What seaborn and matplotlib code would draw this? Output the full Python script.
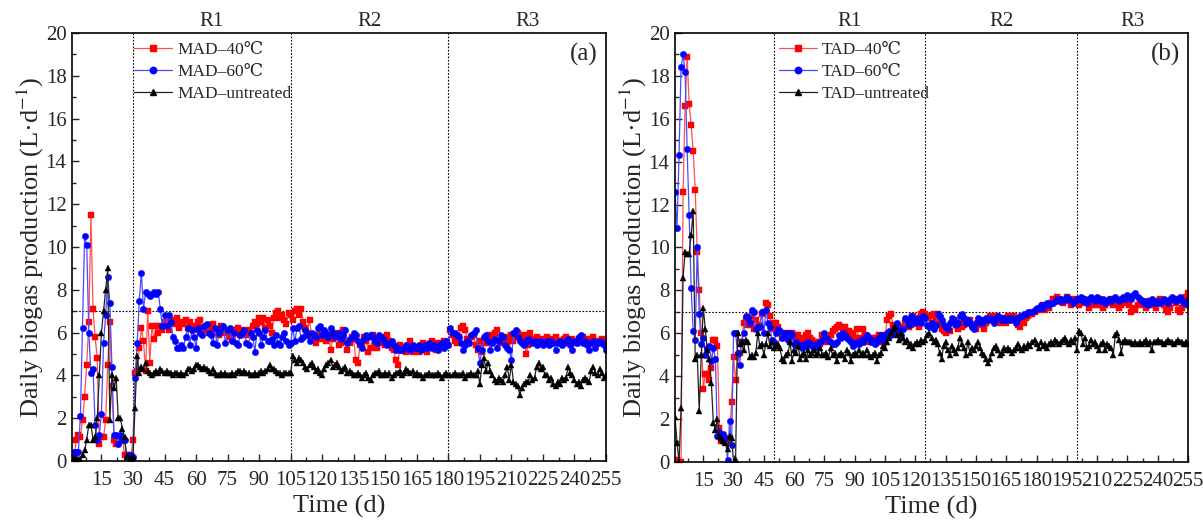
import numpy as np
import pandas as pd
import matplotlib
matplotlib.use("Agg")
import matplotlib.pyplot as plt
import seaborn as sns
from matplotlib.ticker import MultipleLocator, FixedLocator
from matplotlib.lines import Line2D

# ---------------- data ----------------
days = list(range(1, 256))

mad_40 = [
    0.2, 0.2, 1.0, 1.2, 1.1, 1.9, 3.0, 4.5, 6.5, 11.5, 7.1, 5.8, 4.8, 0.8, 1.1,
    1.1, 1.9, 4.5, 6.5, 3.5, 1.0, 0.8, 1.1, 1.1, 1.0, 0.3, 0.3, 0.3, 0.2, 1.0,
    4.1, 4.2, 5.3, 6.2, 5.6, 4.2, 7.0, 4.6, 6.3, 5.7, 6.3, 6.0, 6.3, 6.1, 6.5,
    6.4, 6.1, 6.5, 6.6, 6.4, 6.7, 6.2, 6.5, 6.4, 6.6, 6.2, 6.5, 6.3, 6.1, 6.2,
    6.5, 6.6, 6.2, 6.1, 6.3, 6.0, 6.2, 6.4, 6.1, 6.0, 5.9, 6.3, 6.2, 6.0, 6.1,
    5.8, 5.7, 6.1, 6.0, 6.2, 5.9, 6.1, 6.0, 5.9, 6.1, 6.0, 6.3, 6.5, 6.4, 6.7,
    6.5, 6.7, 6.2, 6.6, 6.3, 6.0, 6.7, 6.9, 7.0, 6.7, 6.8, 6.6, 6.4, 6.9, 6.8,
    6.6, 7.0, 7.1, 6.8, 7.1, 6.5, 6.2, 6.0, 6.6, 5.8, 5.9, 5.5, 5.9, 6.1, 5.7,
    5.8, 5.6, 5.9, 5.2, 5.7, 5.9, 6.0, 5.4, 5.5, 6.1, 5.6, 5.2, 5.5, 5.8, 5.7,
    4.7, 4.6, 5.4, 5.5, 5.8, 5.6, 5.1, 5.3, 5.9, 5.4, 5.3, 5.6, 5.8, 5.5, 5.4,
    5.9, 5.6, 5.3, 5.2, 4.7, 4.5, 5.4, 5.3, 5.2, 5.1, 5.2, 5.6, 5.1, 5.2, 5.3,
    5.1, 5.2, 5.5, 5.3, 5.1, 5.4, 5.6, 5.3, 5.2, 5.5, 5.4, 5.3, 5.6, 5.5, 5.4,
    6.1, 5.9, 5.6, 5.5, 5.8, 6.2, 6.3, 6.1, 5.7, 5.5, 5.8, 5.9, 5.4, 5.2, 5.6,
    5.1, 5.5, 5.8, 5.5, 5.9, 5.7, 6.0, 6.1, 5.6, 5.5, 5.7, 5.8, 5.4, 5.6, 5.9,
    5.6, 5.8, 6.0, 5.7, 5.6, 5.9, 5.0, 5.4, 6.0, 5.7, 5.6, 5.8, 5.7, 5.5, 5.6,
    5.7, 5.8, 5.6, 5.5, 5.7, 5.8, 5.6, 5.6, 5.5, 5.7, 5.8, 5.5, 5.6, 5.7, 5.6,
    5.5, 5.7, 5.6, 5.8, 5.6, 5.5, 5.7, 5.6, 5.8, 5.6, 5.5, 5.6, 5.7, 5.5, 5.6,
]

mad_60 = [
    0.3, 0.4, 0.4, 0.4, 2.1, 6.2, 10.5, 10.1, 6.0, 4.1, 4.3, 1.7, 1.0, 1.2, 2.2,
    5.5, 6.8, 8.6, 7.4, 4.4, 1.2, 1.2, 0.8, 1.2, 1.0, 1.0, 0.2, 0.3, 0.3, 0.2,
    3.9, 5.5, 7.5, 8.8, 7.1, 7.9, 7.8, 7.7, 7.8, 7.9, 7.8, 7.9, 7.1, 6.3, 6.8,
    6.3, 6.8, 6.5, 5.8, 5.6, 5.3, 5.3, 5.4, 5.3, 5.8, 6.2, 5.4, 6.1, 5.8, 5.3,
    6.2, 6.0, 5.9, 6.3, 6.4, 6.0, 5.9, 5.5, 6.2, 5.4, 6.0, 6.2, 6.3, 5.5, 6.1,
    6.2, 5.6, 6.0, 5.5, 5.4, 5.9, 6.0, 6.1, 5.5, 5.4, 6.0, 5.8, 5.1, 6.1, 6.0,
    5.4, 5.8, 6.1, 5.6, 5.6, 5.7, 5.4, 5.9, 5.5, 5.4, 5.8, 6.0, 5.6, 5.4, 5.5,
    6.2, 5.6, 6.2, 6.3, 5.7, 5.8, 6.1, 5.9, 5.6, 6.0, 5.9, 5.8, 6.2, 6.3, 5.9,
    6.1, 6.0, 5.8, 6.2, 6.0, 5.8, 5.9, 6.0, 5.7, 5.9, 6.1, 5.5, 5.7, 5.8, 6.0,
    5.9, 5.6, 5.5, 5.3, 5.7, 5.9, 5.8, 5.9, 5.8, 5.6, 5.5, 5.9, 5.8, 5.7, 5.5,
    5.4, 5.5, 5.6, 5.4, 5.2, 5.3, 5.2, 5.2, 5.3, 5.4, 5.3, 5.2, 5.4, 5.3, 5.3,
    5.4, 5.2, 5.3, 5.4, 5.3, 5.5, 5.3, 5.4, 5.3, 5.2, 5.4, 5.5, 5.3, 5.6, 5.4,
    6.2, 6.0, 6.0, 5.9, 5.8, 5.5, 5.2, 5.4, 5.6, 5.5, 5.9, 6.0, 6.1, 5.3, 4.6,
    5.2, 5.8, 5.9, 5.6, 5.2, 5.5, 5.7, 5.3, 5.6, 5.9, 5.8, 5.4, 5.3, 5.2, 4.7,
    6.0, 6.1, 5.8, 5.6, 5.5, 5.4, 5.6, 5.7, 5.6, 5.5, 5.6, 5.4, 5.5, 5.6, 5.4,
    5.5, 5.6, 5.4, 5.6, 5.5, 5.2, 5.5, 5.6, 5.4, 5.5, 5.6, 5.7, 5.4, 5.2, 5.6,
    5.5, 5.8, 5.9, 5.5, 5.6, 5.4, 5.2, 5.5, 5.6, 5.3, 5.5, 5.6, 5.5, 5.4, 5.2,
]

mad_untreated = [
    0.1, 0.1, 0.1, 0.1, 0.1, 0.3, 0.5, 1.0, 1.7, 1.7, 1.0, 1.1, 2.0, 4.0, 6.0,
    7.0, 8.0, 9.0, 1.9, 4.0, 3.4, 3.9, 2.0, 2.0, 1.5, 1.1, 0.2, 0.2, 0.1, 0.2,
    2.5, 4.9, 4.1, 4.4, 4.3, 4.6, 4.2, 4.1, 4.0, 4.1, 4.2, 4.1, 4.3, 4.2, 4.1,
    4.2, 4.1, 4.1, 4.0, 4.1, 4.1, 4.0, 4.1, 4.0, 4.1, 4.3, 4.3, 4.2, 4.3, 4.5,
    4.5, 4.4, 4.3, 4.4, 4.3, 4.2, 4.1, 4.3, 4.1, 4.0, 4.0, 4.1, 4.0, 4.1, 4.0,
    4.0, 4.1, 4.0, 4.1, 4.2, 4.2, 4.1, 4.2, 4.1, 4.1, 4.0, 4.0, 4.1, 4.0, 4.1,
    4.2, 4.1, 4.2, 4.3, 4.5, 4.3, 4.3, 4.2, 4.1, 4.1, 4.0, 4.1, 4.1, 4.1, 4.1,
    4.9, 4.7, 4.6, 4.8, 4.7, 4.6, 4.4, 4.3, 4.5, 4.6, 4.4, 4.2, 4.3, 4.1, 4.0,
    4.3, 4.5, 4.6, 4.7, 4.4, 4.5, 4.6, 4.4, 4.2, 4.3, 4.4, 4.1, 4.2, 4.1, 4.0,
    4.0, 4.1, 4.0, 3.9, 4.0, 4.1, 3.9, 3.8, 4.0, 4.1, 4.1, 4.2, 4.0, 4.0, 4.1,
    4.0, 4.1, 3.9, 4.0, 4.1, 4.1, 4.2, 4.0, 4.1, 4.3, 4.2, 4.1, 4.2, 4.0, 4.1,
    4.0, 4.0, 3.9, 4.0, 4.0, 4.1, 4.0, 4.0, 4.0, 4.1, 4.0, 3.9, 4.0, 4.1, 4.0,
    4.0, 4.0, 4.1, 4.0, 4.0, 4.0, 4.1, 3.9, 4.0, 4.0, 4.1, 4.0, 4.0, 4.2, 3.6,
    4.5, 4.8, 4.2, 4.6, 4.2, 4.0, 3.8, 3.7, 3.9, 3.8, 3.7, 4.0, 4.4, 3.8, 4.5,
    3.7, 3.6, 3.5, 3.1, 3.4, 3.6, 3.7, 3.7, 4.0, 3.8, 3.9, 4.4, 4.6, 4.3, 4.4,
    4.0, 4.0, 3.8, 3.9, 3.6, 3.5, 3.7, 3.6, 3.9, 3.8, 3.9, 4.4, 4.1, 4.0, 3.8,
    3.6, 3.7, 3.5, 3.8, 3.9, 3.8, 3.7, 4.2, 4.4, 4.1, 4.0, 4.3, 4.1, 3.9, 4.0,
]

tad_40 = [
    0.1, 0.1, 0.0, 0.0, 12.6, 16.6, 18.9, 16.7, 15.7, 14.5, 12.7, 9.8, 8.0, 6.0, 3.4,
    4.1, 4.1, 3.8, 4.4, 5.7, 5.7, 5.4, 1.6, 1.0, 1.1, 1.0, 0.9, 1.1, 2.8, 4.9,
    3.8, 5.0, 5.1, 5.6, 6.5, 6.6, 6.4, 6.5, 6.8, 6.2, 6.6, 6.3, 6.4, 6.9, 7.0,
    7.4, 7.3, 6.8, 6.2, 6.5, 6.5, 6.3, 6.0, 5.8, 5.9, 6.0, 5.9, 5.8, 6.0, 5.9,
    5.8, 5.9, 5.8, 5.6, 5.7, 5.9, 6.0, 5.8, 5.7, 5.5, 5.6, 5.6, 5.5, 5.9, 5.7,
    5.6, 5.8, 5.9, 6.1, 6.2, 6.3, 6.4, 6.3, 6.2, 6.3, 6.1, 6.1, 6.0, 5.9, 5.8,
    6.2, 5.8, 5.7, 6.2, 5.9, 5.6, 5.7, 5.8, 5.8, 5.6, 5.8, 5.9, 5.7, 5.6, 5.9,
    6.6, 6.8, 6.9, 6.4, 6.2, 6.0, 6.1, 5.8, 6.3, 6.5, 6.6, 6.3, 6.4, 6.8, 6.5,
    6.6, 6.3, 6.9, 7.0, 6.9, 6.7, 6.8, 6.5, 6.9, 6.6, 6.9, 6.4, 6.2, 6.1, 6.0,
    6.3, 6.1, 6.5, 6.6, 6.4, 6.2, 6.5, 6.3, 6.4, 6.6, 6.5, 6.6, 6.4, 6.3, 6.2,
    6.5, 6.6, 6.4, 6.2, 6.5, 6.6, 6.8, 6.6, 6.7, 6.8, 6.6, 6.5, 6.7, 6.6, 6.5,
    6.8, 6.6, 6.7, 6.8, 6.6, 6.4, 6.3, 6.6, 6.5, 6.7, 6.8, 6.9, 6.9, 7.0, 7.1,
    7.1, 7.2, 7.3, 7.1, 7.3, 7.2, 7.4, 7.6, 7.5, 7.7, 7.6, 7.5, 7.4, 7.5, 7.7,
    7.6, 7.3, 7.4, 7.6, 7.5, 7.3, 7.4, 7.6, 7.5, 7.4, 7.2, 7.3, 7.5, 7.4, 7.3,
    7.6, 7.4, 7.2, 7.3, 7.5, 7.4, 7.6, 7.3, 7.5, 7.4, 7.2, 7.3, 7.5, 7.4, 7.6,
    7.3, 7.0, 7.2, 7.1, 7.3, 7.4, 7.5, 7.3, 7.2, 7.4, 7.5, 7.3, 7.4, 7.2, 7.5,
    7.6, 7.4, 7.3, 7.1, 7.0, 7.2, 7.5, 7.6, 7.4, 7.1, 7.0, 7.2, 7.3, 7.7, 7.9,
]

tad_60 = [
    12.6, 10.9, 14.3, 18.4, 19.0, 18.2, 14.6, 11.5, 8.1, 6.1, 5.7, 10.0, 6.9, 5.5, 5.8,
    5.0, 5.3, 5.4, 4.7, 5.3, 4.8, 1.2, 1.4, 1.1, 1.3, 1.1, 0.1, 1.9, 0.8, 6.0,
    6.0, 5.1, 4.5, 5.6, 6.0, 6.8, 6.7, 6.5, 7.1, 7.0, 6.2, 6.3, 6.3, 7.0, 6.0,
    7.1, 6.5, 6.3, 5.7, 5.6, 6.0, 6.2, 6.1, 5.8, 5.9, 6.0, 5.7, 6.0, 5.9, 5.5,
    5.6, 5.5, 5.4, 5.3, 5.5, 5.4, 5.6, 5.5, 5.4, 5.3, 5.5, 5.4, 5.6, 5.7, 6.0,
    5.8, 5.7, 5.6, 5.5, 5.5, 5.6, 5.9, 5.8, 6.0, 5.9, 5.8, 5.7, 5.6, 5.4, 5.5,
    5.6, 5.5, 5.7, 5.6, 5.8, 5.9, 5.8, 5.6, 5.7, 5.5, 5.6, 5.8, 5.9, 5.7, 5.9,
    6.0, 6.1, 5.9, 6.0, 6.3, 6.5, 6.2, 5.9, 6.2, 6.7, 6.6, 6.4, 6.8, 6.6, 6.5,
    6.7, 6.6, 6.5, 6.8, 6.7, 6.4, 6.3, 6.5, 6.2, 6.4, 6.9, 6.8, 6.6, 6.4, 6.3,
    6.2, 6.5, 6.7, 6.6, 6.4, 6.5, 6.8, 6.9, 6.7, 6.5, 6.6, 6.5, 6.3, 6.2, 6.5,
    6.7, 6.6, 6.5, 6.6, 6.7, 6.6, 6.7, 6.6, 6.5, 6.7, 6.8, 6.7, 6.6, 6.7, 6.6,
    6.7, 6.6, 6.7, 6.6, 6.5, 6.7, 6.8, 6.8, 6.9, 6.9, 7.0, 7.0, 7.0, 7.1, 7.2,
    7.2, 7.3, 7.2, 7.3, 7.4, 7.3, 7.4, 7.4, 7.5, 7.6, 7.5, 7.6, 7.5, 7.6, 7.7,
    7.6, 7.5, 7.4, 7.5, 7.6, 7.6, 7.7, 7.5, 7.6, 7.4, 7.6, 7.7, 7.6, 7.5, 7.7,
    7.6, 7.5, 7.6, 7.4, 7.5, 7.6, 7.5, 7.6, 7.7, 7.6, 7.5, 7.6, 7.7, 7.6, 7.8,
    7.7, 7.6, 7.8, 7.9, 7.7, 7.6, 7.5, 7.4, 7.5, 7.3, 7.5, 7.6, 7.4, 7.4, 7.5,
    7.4, 7.5, 7.6, 7.5, 7.4, 7.6, 7.7, 7.6, 7.5, 7.6, 7.7, 7.5, 7.4, 7.5, 7.3,
]

tad_untreated = [
    2.1, 0.9, 0.0, 2.5, 8.6, 9.8, 9.7, 9.7, 10.6, 11.7, 4.8, 5.0, 2.4, 5.0, 7.2,
    6.2, 5.2, 4.8, 3.7, 1.8, 1.5, 2.0, 1.2, 1.1, 1.0, 0.9, 0.6, 1.2, 1.1, 0.0,
    0.1, 6.0, 5.5, 5.6, 5.2, 5.7, 5.6, 4.9, 5.0, 4.9, 5.1, 6.0, 5.4, 5.5, 5.0,
    5.5, 6.0, 5.4, 5.6, 5.3, 5.4, 5.5, 5.3, 4.8, 4.7, 5.0, 5.1, 5.6, 4.7, 5.2,
    5.1, 5.4, 4.8, 5.0, 5.1, 4.8, 5.2, 5.0, 5.1, 5.2, 5.0, 5.1, 5.3, 5.0, 5.0,
    5.1, 4.9, 5.3, 5.0, 5.1, 4.7, 5.0, 5.1, 5.0, 4.8, 5.2, 5.1, 4.7, 5.0, 5.1,
    5.0, 5.2, 5.0, 5.1, 5.0, 5.2, 5.0, 4.9, 5.0, 5.1, 4.7, 5.0, 5.1, 5.4, 5.3,
    5.6, 5.8, 6.0, 6.2, 6.3, 5.9, 5.7, 6.0, 5.8, 5.6, 5.7, 5.4, 5.5, 5.3, 5.5,
    5.6, 5.5, 5.7, 5.6, 5.7, 5.9, 6.0, 5.8, 5.6, 5.7, 5.5, 5.1, 4.8, 5.4, 5.6,
    5.2, 5.0, 5.4, 5.2, 5.1, 5.3, 5.8, 5.5, 5.3, 5.0, 5.6, 5.1, 5.3, 5.2, 5.4,
    5.6, 5.3, 5.1, 5.0, 4.8, 4.6, 4.8, 5.1, 5.3, 5.4, 5.2, 5.0, 5.1, 5.3, 5.2,
    5.3, 5.2, 5.1, 5.2, 5.3, 5.5, 5.3, 5.2, 5.4, 5.3, 5.5, 5.4, 5.6, 5.7, 5.5,
    5.3, 5.6, 5.4, 5.5, 5.3, 5.5, 5.6, 5.5, 5.7, 5.6, 5.5, 5.6, 5.7, 5.8, 5.6,
    5.5, 5.7, 5.6, 5.8, 5.2, 6.1, 6.0, 5.5, 5.8, 5.3, 5.4, 5.7, 5.5, 5.6, 5.4,
    5.2, 5.5, 5.6, 5.2, 5.5, 5.4, 5.3, 5.0, 5.9, 6.0, 5.7, 5.1, 5.6, 5.7, 5.6,
    5.6, 5.6, 5.5, 5.6, 5.5, 5.6, 5.5, 5.6, 5.7, 5.5, 5.6, 5.2, 5.6, 5.6, 5.7,
    5.6, 5.6, 5.5, 5.6, 5.7, 5.6, 5.6, 5.5, 5.6, 5.7, 5.6, 5.6, 5.5, 5.6, 5.5,
]

labels_a = ["MAD\u201340\u2103", "MAD\u201360\u2103", "MAD\u2013untreated"]
labels_b = ["TAD\u201340\u2103", "TAD\u201360\u2103", "TAD\u2013untreated"]
stage_names = ["R1", "R2", "R3"]
stages_a = [30, 105, 180]
stages_b = [50, 125, 200]
ref_level = 7
x_ticks = list(range(15, 256, 15))

# ---------------- style ----------------
sns.set_theme(style="white")
plt.rcParams["font.family"] = ["Liberation Serif", "DejaVu Serif"]
plt.rcParams["mathtext.fontset"] = "stix"
plt.rcParams["axes.linewidth"] = 1.2

colors = ["#ff0000", "#0000ff", "#000000"]
line_colors = ["#ff5050", "#4a4aff", "#202020"]
markers = ["s", "o", "^"]
msizes = [4.2, 4.6, 5.0]

fig = plt.figure(figsize=(12.03, 5.2), dpi=100)
ax_a = fig.add_axes([72 / 1203, 59 / 520, 534 / 1203, 428 / 520])
ax_b = fig.add_axes([675 / 1203, 58 / 520, 513 / 1203, 429 / 520])


def draw(ax, series, labels, stages, tag, leg_x):
    for vals, lab, c, lc, m, ms in zip(series, labels, colors, line_colors, markers, msizes):
        df = pd.DataFrame({"day": days, "val": vals})
        sns.lineplot(data=df, x="day", y="val", ax=ax, color=lc, lw=0.9,
                     marker=m, markersize=ms, markerfacecolor=c,
                     markeredgecolor=c, markeredgewidth=0.3, label=lab,
                     legend=False)
    ax.set_xlim(1, 255)
    ax.set_ylim(0, 20)
    ax.axhline(ref_level, color="black", ls=(0, (1.5, 1.5)), lw=0.8, zorder=0.5)
    bounds = stages + [255]
    for s in stages:
        ax.axvline(s, color="black", ls=(0, (1.5, 1.5)), lw=0.8, zorder=0.5)
    for i, nm in enumerate(stage_names):
        xc = (bounds[i] + bounds[i + 1]) / 2
        ax.text(xc, 1.005, nm, transform=ax.get_xaxis_transform(),
                ha="center", va="bottom", fontsize=15)
    ax.xaxis.set_major_locator(FixedLocator(x_ticks))
    ax.xaxis.set_minor_locator(FixedLocator([t - 7.5 for t in x_ticks]))
    ax.yaxis.set_major_locator(MultipleLocator(2))
    ax.yaxis.set_minor_locator(MultipleLocator(1))
    ax.tick_params(axis="both", which="major", direction="in", length=5,
                   width=1, labelsize=15, top=False, right=False,
                   bottom=True, left=True)
    ax.tick_params(axis="x", which="major", pad=7)
    ax.tick_params(axis="y", which="major", pad=4)
    ax.tick_params(axis="both", which="minor", direction="in", length=3,
                   width=1, top=False, right=False, bottom=True, left=True)
    for sp in ax.spines.values():
        sp.set_color("black")
        sp.set_linewidth(1.2)
    ax.set_xlabel("Time (d)", fontsize=19, labelpad=4)
    ax.set_ylabel("Daily biogas production (L\u00b7d$^{-1}$)", fontsize=19, labelpad=0)
    ax.text(0.985, 0.95, tag, transform=ax.transAxes, ha="right", va="center",
            fontsize=18)
    handles = [Line2D([0], [0], color=lc, lw=0.9, marker=m, markersize=ms,
                      markerfacecolor=c, markeredgecolor=c)
               for c, lc, m, ms in zip(colors, line_colors, markers, msizes)]
    ax.legend(handles, labels, loc="upper left", bbox_to_anchor=(leg_x, 1.0),
              frameon=False, fontsize=12.5, handlelength=2.2,
              handletextpad=0.3, labelspacing=0.35, borderaxespad=0.3,
              borderpad=0.2)


draw(ax_a, [mad_40, mad_60, mad_untreated], labels_a, stages_a, "(a)", 0.1)
draw(ax_b, [tad_40, tad_60, tad_untreated], labels_b, stages_b, "(b)", 0.185)

fig.savefig("out.png", dpi=100)
